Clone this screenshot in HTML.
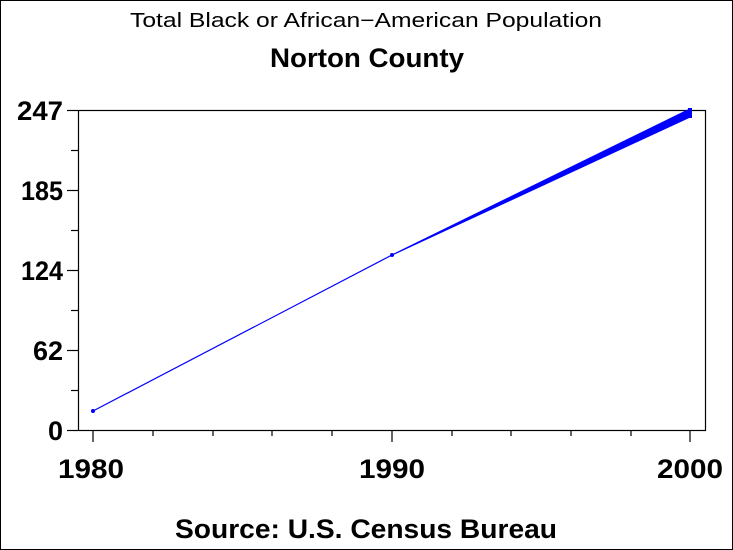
<!DOCTYPE html>
<html><head><style>
body{margin:0;background:#fff}
svg{display:block}
text{font-family:"Liberation Sans",Arial,sans-serif;fill:#000;font-weight:bold}
</style></head><body>
<svg width="733" height="550" viewBox="0 0 733 550">
<rect x="0.5" y="0.5" width="732" height="549" fill="#fff" stroke="#000"/>
<text x="130" y="27" font-size="20" textLength="472" lengthAdjust="spacingAndGlyphs" style="font-weight:normal">Total Black or African−American Population</text>
<text x="270" y="67" font-size="27" textLength="194" lengthAdjust="spacingAndGlyphs">Norton County</text>
<rect x="78.5" y="110.5" width="627" height="320" fill="none" stroke="#000" stroke-width="1.2"/>
<g stroke="#000" stroke-width="1.2">
<line x1="67" y1="110.5" x2="78" y2="110.5"/><line x1="67" y1="190.5" x2="78" y2="190.5"/>
<line x1="67" y1="270.5" x2="78" y2="270.5"/><line x1="67" y1="350.5" x2="78" y2="350.5"/>
<line x1="67" y1="430.5" x2="78" y2="430.5"/>
<line x1="71" y1="150.5" x2="78" y2="150.5"/><line x1="71" y1="230.5" x2="78" y2="230.5"/>
<line x1="71" y1="310.5" x2="78" y2="310.5"/><line x1="71" y1="390.5" x2="78" y2="390.5"/>
<line x1="93" y1="431" x2="93" y2="442"/><line x1="392" y1="431" x2="392" y2="442"/><line x1="690" y1="431" x2="690" y2="442"/>
<line x1="153" y1="431" x2="153" y2="436"/><line x1="213" y1="431" x2="213" y2="436"/><line x1="272" y1="431" x2="272" y2="436"/><line x1="332" y1="431" x2="332" y2="436"/>
<line x1="452" y1="431" x2="452" y2="436"/><line x1="511" y1="431" x2="511" y2="436"/><line x1="571" y1="431" x2="571" y2="436"/><line x1="631" y1="431" x2="631" y2="436"/>
</g>
<g font-size="27" text-anchor="end">
<text x="63" y="120" textLength="46" lengthAdjust="spacingAndGlyphs">247</text><text x="63" y="200" textLength="42" lengthAdjust="spacingAndGlyphs">185</text><text x="63" y="280" textLength="42" lengthAdjust="spacingAndGlyphs">124</text><text x="63" y="360" textLength="30" lengthAdjust="spacingAndGlyphs">62</text><text x="63" y="440">0</text>
</g>
<g font-size="27">
<text x="58" y="478" textLength="66" lengthAdjust="spacingAndGlyphs">1980</text><text x="359" y="478" textLength="66" lengthAdjust="spacingAndGlyphs">1990</text><text x="657" y="478" textLength="66" lengthAdjust="spacingAndGlyphs">2000</text>
</g>
<g stroke="#00f" fill="none" stroke-width="1.2">
<line x1="93" y1="411" x2="392" y2="255"/>
<polygon points="392,255 690,109 690,117" fill="#00f"/>
</g>
<circle cx="93" cy="411" r="2" fill="#00f"/><circle cx="392" cy="255" r="2" fill="#00f"/><rect x="688" y="108" width="4" height="10" fill="#00f"/>
<text x="175" y="538" font-size="27" textLength="382" lengthAdjust="spacingAndGlyphs">Source: U.S. Census Bureau</text>
</svg>
</body></html>
